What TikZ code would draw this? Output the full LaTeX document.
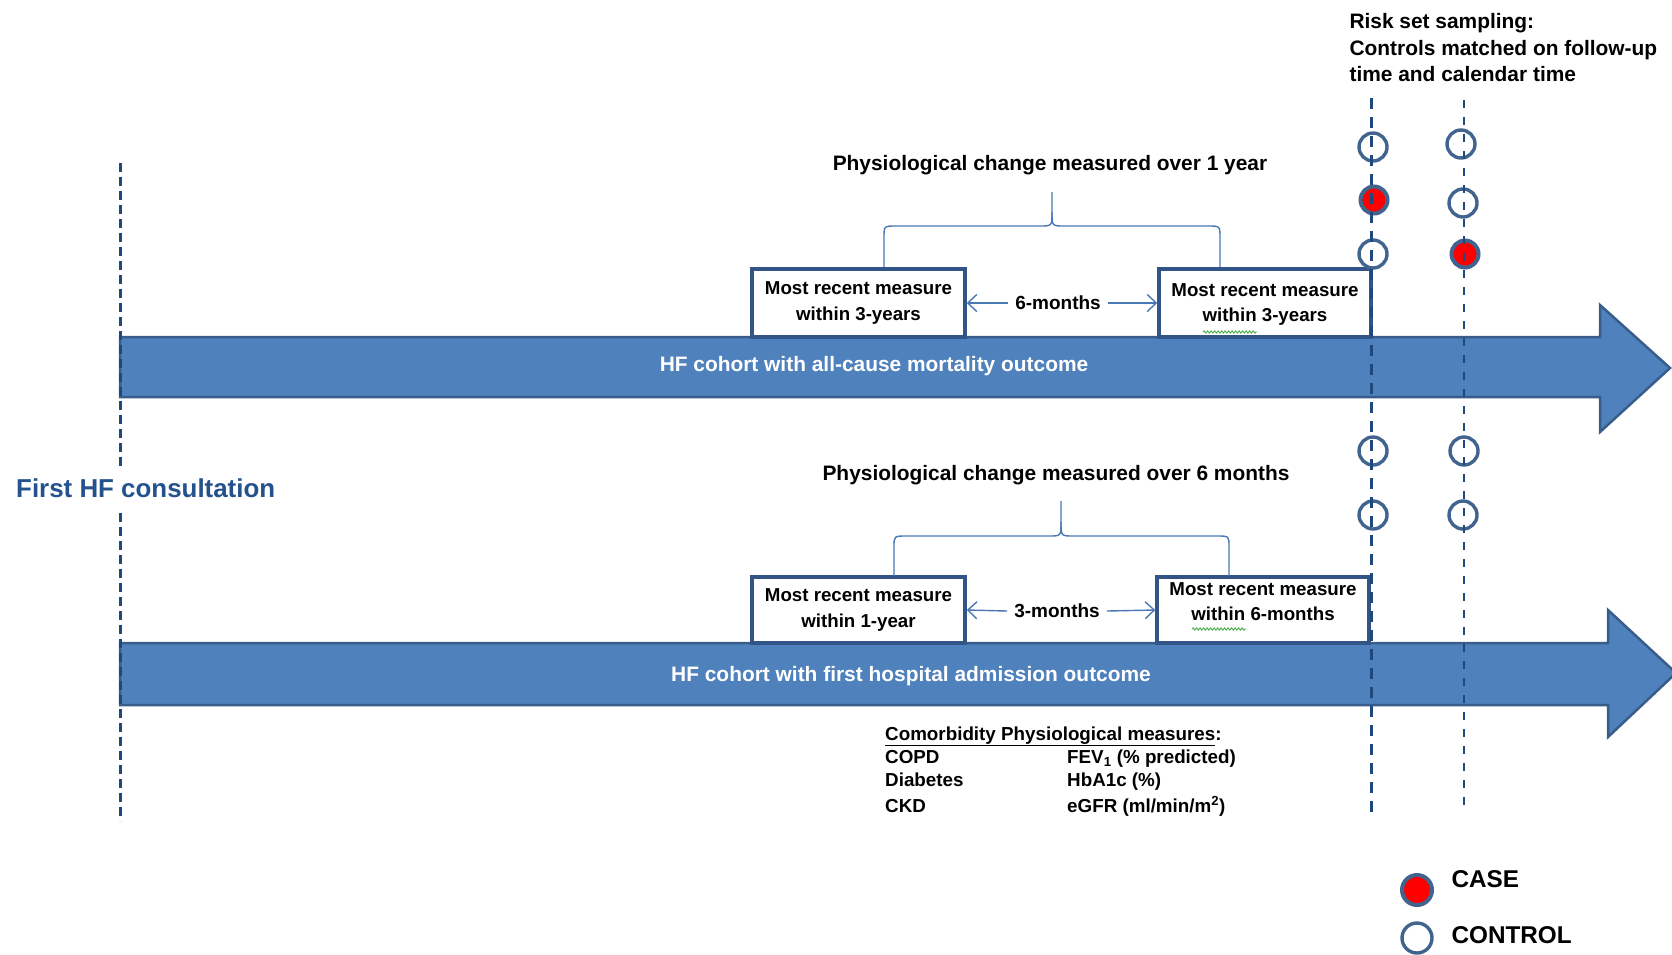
\documentclass[tikz,border=0pt]{standalone}
\usepackage{fontspec}
\setmainfont{Liberation Sans}
\usetikzlibrary{arrows.meta,decorations.pathmorphing,calc}

\definecolor{arrowfill}{RGB}{79,129,189}
\definecolor{arrowedge}{RGB}{56,93,138}
\definecolor{boxedge}{RGB}{50,84,135}
\definecolor{guide}{RGB}{31,73,125}
\definecolor{thinblue}{RGB}{74,120,180}
\definecolor{ringedge}{RGB}{65,100,143}
\definecolor{titleblue}{RGB}{35,82,140}
\definecolor{spell}{RGB}{70,170,70}

\newcommand\fsz[2]{\fontsize{#1}{#2}\selectfont}

\begin{document}
\begin{tikzpicture}[x=1pt,y=-1pt,
  timebar/.style={fill=arrowfill,draw=arrowedge,line width=2.5pt,line join=miter},
  bartext/.style={text=white,font=\bfseries\fsz{20.9}{25}},
  measurebox/.style={draw=boxedge,line width=3.5pt,fill=white,align=center,
    minimum width=213pt,inner sep=0pt,font=\bfseries\fsz{18.7}{25.5}},
  gaplabel/.style={font=\bfseries\fsz{19}{23},inner xsep=7pt,inner ysep=2pt},
  gaparrow/.style={thinblue,line width=1.4pt,-{Straight Barb[length=9pt,width=17pt]}},
  bracepath/.style={thinblue,line width=1.4pt},
  heading/.style={font=\bfseries\fsz{20.9}{26.5}},
  guideline/.style={guide,line width=3pt,dash pattern=on 9pt off 5pt},
  riskline/.style={guide,line width=3pt,dash pattern=on 11pt off 8pt},
  riskline2/.style={guide,line width=2.5pt,dash pattern=on 8pt off 9pt},
  ctrl/.style={circle,draw=ringedge,line width=3.4pt,fill=white,minimum size=28pt,inner sep=0pt},
  casept/.style={circle,draw=ringedge,line width=4pt,fill=red,minimum size=27pt,inner sep=0pt},
  legendtext/.style={font=\bfseries\fsz{24.3}{28},anchor=west},
  tabletext/.style={font=\bfseries\fsz{18.8}{23},anchor=base west,inner sep=0pt},
  squiggle/.style={spell,line width=0.9pt,decorate,
    decoration={snake,segment length=3.5pt,amplitude=1.1pt}}]

\clip (0,0) rectangle (1672,954);

% ---- the two cohort time bars ----
\draw[timebar] (120,337) -- (1600,337) -- (1600,305) -- (1670,368)
  -- (1600,432) -- (1600,397) -- (120,397) -- cycle;
\node[bartext] (barA) at (874,366) {HF cohort with all-cause mortality outcome};

\draw[timebar] (120,643) -- (1608,643) -- (1608,610) -- (1676,673)
  -- (1608,737) -- (1608,705) -- (120,705) -- cycle;
\node[bartext] (barB) at (911,676) {HF cohort with first hospital admission outcome};

% ---- measurement boxes ----
\node[measurebox,minimum height=68pt] (ua) at (858.5,303) {Most recent measure\\within 3-years};
\node[measurebox,minimum height=68pt,minimum width=212pt,text depth=1pt] (ub) at (1265,303) {Most recent measure\\within 3-years};
\node[measurebox,minimum height=66pt] (la) at (858.5,610) {Most recent measure\\within 1-year};
\node[measurebox,minimum height=66pt,minimum width=212pt,text depth=17pt] (lb) at (1263,610) {Most recent measure\\within 6-months};

\draw[squiggle] ($(ub.center)+(-62,29)$) -- ($(ub.center)+(-8,29)$);
\draw[squiggle] ($(lb.center)+(-71,19)$) -- ($(lb.center)+(-17,19)$);

% ---- gaps between the measures ----
\node[gaplabel] (g6) at (1058,303) {6-months};
\draw[gaparrow] (g6.west) -- (ua.east);
\draw[gaparrow] (g6.east) -- (ub.west);

\node[gaplabel] (g3) at (1057,611) {3-months};
\draw[gaparrow] (g3.west) -- (la.east);
\draw[gaparrow] (g3.east) -- (lb.west);

% ---- braces and their captions ----
\draw[bracepath] (884,267) -- (884,238) .. controls (884,226) .. (896,226)
  -- (1040,226) .. controls (1052,226) .. (1052,212) -- (1052,192);
\draw[bracepath] (1220,267) -- (1220,238) .. controls (1220,226) .. (1208,226)
  -- (1064,226) .. controls (1052,226) .. (1052,212);
\node[heading] (capA) at (1050,165) {Physiological change measured over 1 year};

\draw[bracepath] (894,576) -- (894,547) .. controls (894,536) .. (906,536)
  -- (1049,536) .. controls (1061,536) .. (1061,522) -- (1061,501);
\draw[bracepath] (1229,576) -- (1229,547) .. controls (1229,536) .. (1217,536)
  -- (1073,536) .. controls (1061,536) .. (1061,522);
\node[heading] (capB) at (1056,475) {Physiological change measured over 6 months};

% ---- start of follow-up ----
\coordinate (startTop) at (120,163);
\coordinate (startBot) at (120,821);
\draw[guideline] (startTop) -- (startBot);
\node[font=\bfseries\fsz{25.9}{30},text=titleblue,anchor=west,fill=white,
  inner xsep=0pt,inner ysep=10pt] (first) at (16,488) {First HF consultation};

% ---- risk sets: cases and matched controls ----
\node[heading,anchor=west,align=left] (risk) at (1346,48)
  {Risk set sampling:\\Controls matched on follow-up\\time and calendar time};

\node[ctrl]    (a1) at (1373,147) {};
\node[casept]  (a2) at (1374,200) {};
\node[ctrl]    (a3) at (1373,254) {};
\node[ctrl]    (a4) at (1373,451) {};
\node[ctrl]    (a5) at (1373,515) {};
\node[ctrl]    (b1) at (1461,144) {};
\node[ctrl]    (b2) at (1463,203) {};
\node[casept]  (b3) at (1465,254) {};
\node[ctrl]    (b4) at (1464,451) {};
\node[ctrl]    (b5) at (1463,515) {};

\coordinate (setATop) at (1371,98);
\coordinate (setABot) at (1371,812);
\coordinate (setBTop) at (1464,100);
\coordinate (setBBot) at (1464,812);
\draw[riskline]  (setATop) -- (setABot);
\draw[riskline2] (setBTop) -- (setBBot);

% ---- comorbidities and their measures ----
\node[tabletext] (th) at (885,740) {\underline{Comorbidity Physiological measures}:};
\node[tabletext] (c1) at (885,763) {COPD};
\node[tabletext] (c2) at (885,786) {Diabetes};
\node[tabletext] (c3) at (885,812) {CKD};
\node[tabletext] (p1) at (1067,763) {FEV\textsubscript{1} (\% predicted)};
\node[tabletext] (p2) at (1067,786) {HbA1c (\%)};
\node[tabletext] (p3) at (1067,812) {eGFR (ml/min/m\textsuperscript{2})};

% ---- legend ----
\node[casept,minimum size=30pt] (kcase) at (1417,890) {};
\node[ctrl,minimum size=30pt]   (kctrl) at (1417,938) {};
\node[legendtext] (lcase) at (1448,879) {CASE};
\node[legendtext] (lctrl) at (1448,935) {CONTROL};
\end{tikzpicture}
\end{document}
